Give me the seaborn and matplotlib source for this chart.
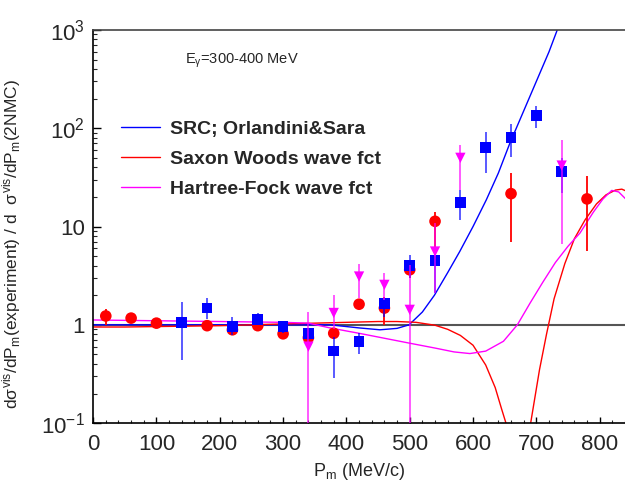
import numpy as np
import pandas as pd
import matplotlib
matplotlib.use('Agg')
import matplotlib.pyplot as plt
from matplotlib.ticker import MultipleLocator, FixedLocator, NullFormatter
import seaborn as sns

# data points: x (MeV/c), ratio, lower / upper end of error bar
red_x = [20, 60, 100, 180, 220, 260, 300, 340, 380, 420, 460, 500, 540, 660, 780]
red_y = [1.23, 1.17, 1.04, 0.98, 0.89, 0.98, 0.81, 0.74, 0.82, 1.62, 1.48, 3.63, 11.3, 21.6, 19.1]
red_lo = [1.0, 1.1, 1.0, 0.93, 0.84, 0.93, 0.76, 0.69, 0.77, 1.5, 1.0, 3.0, 5.0, 6.9, 5.6]
red_hi = [1.45, 1.25, 1.08, 1.03, 0.95, 1.03, 0.86, 0.79, 0.87, 1.75, 1.9, 4.5, 14.0, 35.0, 32.8]

blue_x = [140, 180, 220, 260, 300, 340, 380, 420, 460, 500, 540, 580, 620, 660, 700, 740]
blue_y = [1.05, 1.48, 0.96, 1.14, 0.96, 0.82, 0.54, 0.68, 1.64, 4.0, 4.5, 17.7, 63.5, 80.5, 134, 36.2]
blue_lo = [0.44, 1.14, 0.78, 1.0, 0.82, 0.70, 0.29, 0.51, 1.21, 3.0, 2.1, 11.7, 34.8, 51.5, 100, 21.8]
blue_hi = [1.70, 1.87, 1.19, 1.31, 1.10, 0.90, 0.76, 0.82, 1.88, 5.15, 5.6, 23.6, 91, 110, 170, 50]

mag_x = [340, 380, 420, 460, 500, 540, 580, 740]
mag_y = [0.60, 1.32, 3.1, 2.55, 1.42, 5.57, 50, 41.7]
mag_lo = [0.01, 0.9, 1.87, 1.8, 0.01, 2.1, 23.6, 6.6]
mag_hi = [1.35, 2.0, 4.17, 3.4, 4.07, 10.9, 68, 76]

# model curves
src_x = [0, 100, 200, 300, 374, 420, 453, 480, 499, 520, 539, 560, 579, 600, 621, 640, 658, 680, 700, 720, 733]
src_y = [1.0, 1.0, 1.0, 1.0, 1.0, 0.93, 0.89, 0.92, 1.0, 1.35, 2.0, 3.4, 5.57, 10, 18.7, 35, 70, 150, 300, 600, 1000]

ws_x1 = [0, 50, 100, 150, 200, 250, 300, 350, 400, 450, 480, 510, 540, 560, 580, 600, 620, 635, 645, 652]
ws_y1 = [0.95, 0.95, 0.96, 0.97, 0.98, 1.0, 1.02, 1.04, 1.06, 1.08, 1.08, 1.06, 0.99, 0.9, 0.78, 0.62, 0.39, 0.23, 0.14, 0.1]
ws_x2 = [691, 705, 716, 728, 745, 760, 777, 795, 810, 825, 835, 845]
ws_y2 = [0.1, 0.35, 0.8, 1.84, 4.2, 7.5, 11.7, 17, 21, 23.5, 24, 22.5]

hf_x = [0, 100, 200, 300, 340, 374, 420, 460, 500, 540, 570, 595, 620, 648, 670, 690, 710, 730, 750, 769, 790, 805, 819, 830, 845]
hf_y = [1.12, 1.1, 1.08, 1.06, 1.04, 0.93, 0.82, 0.73, 0.65, 0.58, 0.53, 0.51, 0.54, 0.68, 1.0, 1.66, 2.7, 4.3, 6.3, 8.6, 14, 19, 23.3, 22.5, 18]

sns.set_style('ticks')
plt.rcParams['font.family'] = ['Liberation Sans', 'DejaVu Sans']
plt.rcParams['mathtext.fontset'] = 'custom'
plt.rcParams['mathtext.rm'] = 'Liberation Sans'
plt.rcParams['mathtext.it'] = 'Liberation Sans'
plt.rcParams['mathtext.bf'] = 'Liberation Sans:bold'

fig = plt.figure(figsize=(6.25, 4.83), dpi=100)
ax = fig.add_axes([0.149, 0.124, 0.851, 0.814])

ax.axhline(1, color='#555555', lw=1.5, zorder=1)

sns.lineplot(x=src_x, y=src_y, ax=ax, color='#0000ff', lw=1, sort=False, estimator=None,
             label='SRC; Orlandini&Sara')
sns.lineplot(x=ws_x1, y=ws_y1, ax=ax, color='#ff0000', lw=1, sort=False, estimator=None,
             label='Saxon Woods wave fct')
sns.lineplot(x=ws_x2, y=ws_y2, ax=ax, color='#ff0000', lw=1, sort=False, estimator=None)
sns.lineplot(x=hf_x, y=hf_y, ax=ax, color='#ff00ff', lw=1, sort=False, estimator=None,
             label='Hartree-Fock wave fct')

ax.vlines(red_x, red_lo, red_hi, color='#ff0000', lw=1.3, zorder=3)
sns.scatterplot(x=red_x, y=red_y, ax=ax, color='#ff0000', marker='o', s=70,
                edgecolor='none', zorder=4, legend=False)
ax.vlines(blue_x, blue_lo, blue_hi, color='#0000ff', lw=1.3, alpha=0.7, zorder=5)
sns.scatterplot(x=blue_x, y=blue_y, ax=ax, color='#0000ff', marker='s', s=60,
                edgecolor='none', zorder=6, legend=False)
ax.vlines(mag_x, mag_lo, mag_hi, color='#ff00ff', lw=1.3, alpha=0.7, zorder=7)
sns.scatterplot(x=mag_x, y=mag_y, ax=ax, color='#ff00ff', marker='v', s=55,
                edgecolor='none', zorder=8, legend=False)

ax.set_yscale('log')
ax.set_xlim(0, 840)
ax.set_ylim(0.1, 1000)
ax.xaxis.set_major_locator(MultipleLocator(100))
ax.xaxis.set_minor_locator(MultipleLocator(20))
ax.yaxis.set_major_locator(FixedLocator([0.1, 1, 10, 100, 1000]))
ax.set_yticklabels([r'$10^{-1}$', '1', '10', r'$10^{2}$', r'$10^{3}$'])
ax.yaxis.set_minor_formatter(NullFormatter())
ax.tick_params(axis='both', which='major', direction='in', labelsize=16, color='black')
ax.tick_params(axis='x', which='major', length=4.5, width=1, pad=8)
ax.tick_params(axis='x', which='minor', direction='in', length=2.5, width=0.8)
ax.tick_params(axis='y', which='major', length=6, width=1, pad=6)
ax.tick_params(axis='y', which='minor', direction='in', length=3, width=0.8)

for side in ['left', 'bottom', 'top']:
    ax.spines[side].set_color('black')
    ax.spines[side].set_linewidth(1.2)
ax.spines['top'].set_color('#444444')
ax.spines['right'].set_visible(False)

ax.set_xlabel(r'P$_{\rm m}$ (MeV/c)', fontsize=13)
ax.set_ylabel(r'd$\sigma^{\rm vis}$/dP$_{\rm m}$(experiment) / d  $\sigma^{\rm vis}$/dP$_{\rm m}$(2NMC)',
              fontsize=12.5)
ax.yaxis.set_label_coords(-0.132, 0.455)

ax.text(145, 480, r'E$_{\gamma}$=300-400 MeV', fontsize=10.5, ha='left', va='center')

leg = ax.legend(loc='upper left', bbox_to_anchor=(0.02, 0.815), frameon=False,
                prop={'weight': 'bold', 'size': 14}, handlelength=2.0,
                handletextpad=0.5, labelspacing=0.65)

fig.savefig('out.png', dpi=100)
